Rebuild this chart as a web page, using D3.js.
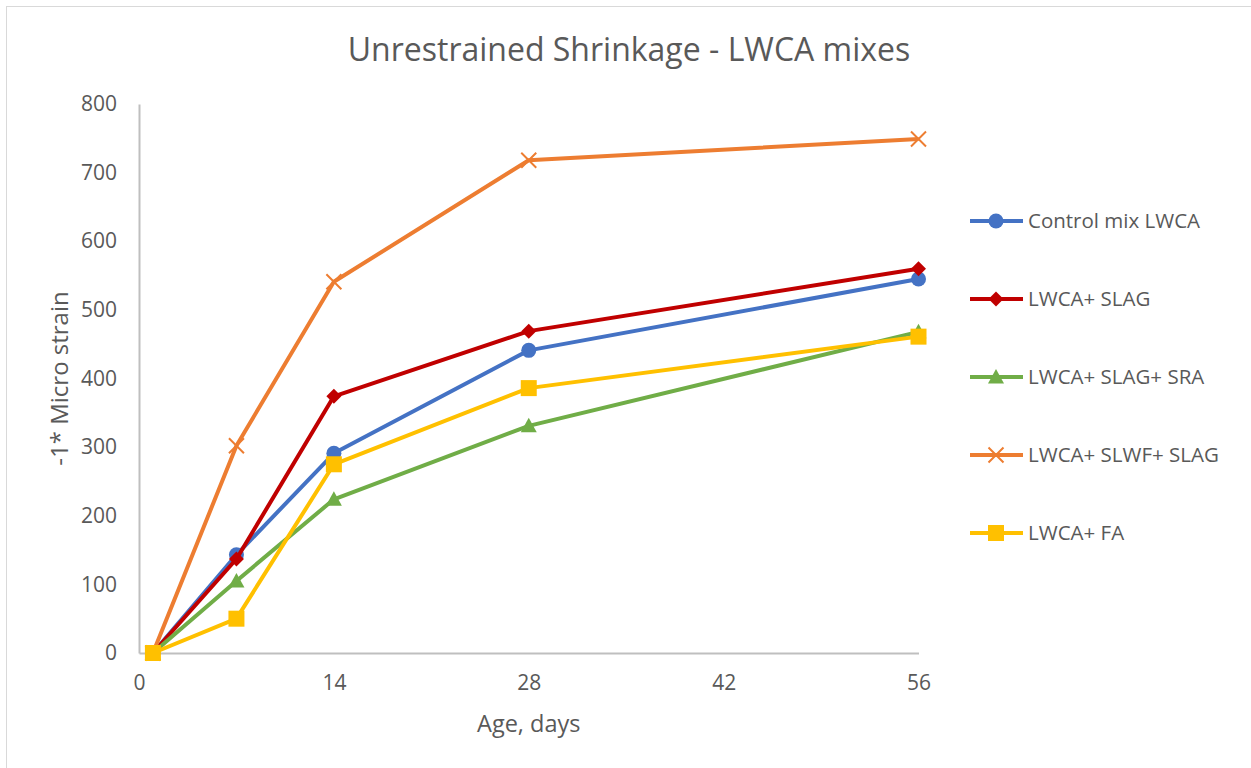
<!DOCTYPE html>
<html>
<head>
<meta charset="utf-8">
<script src="https://cdn.jsdelivr.net/npm/d3@7"></script>
<style>
  body { margin: 0; background: #fff; }
  svg text { font-family: "Open Sans", "Liberation Sans", sans-serif; fill: #595959; }
</style>
</head>
<body>
<script>
// data
const days = [1, 7, 14, 28, 56];
const seriesNames = ['Control mix LWCA', 'LWCA+ SLAG', 'LWCA+ SLAG+ SRA', 'LWCA+ SLWF+ SLAG', 'LWCA+ FA'];
const controlMix = [0, 143, 291, 441, 545];
const slag = [0, 137, 374, 469, 560];
const slagSra = [0, 105, 224, 331, 468];
const slwfSlag = [0, 302, 541, 718, 749];
const fa = [0, 50, 275, 386, 461];
const xTicks = [0, 14, 28, 42, 56];
const yTicks = [0, 100, 200, 300, 400, 500, 600, 700, 800];

const colors = ['#4472c4', '#c00000', '#70ad47', '#ed7d31', '#ffc000'];
const shapes = ['circle', 'diamond', 'triangle', 'cross', 'square'];
const allValues = [controlMix, slag, slagSra, slwfSlag, fa];

const W = 1251, H = 768;
const margin = { l: 139, r: 333, t: 104, b: 115 };

const svg = d3.select('body').append('svg')
  .attr('width', W)
  .attr('height', H);

// chart frame
svg.append('rect')
  .attr('x', 6.5).attr('y', 6.5)
  .attr('width', W + 20).attr('height', H + 20)
  .attr('fill', 'none')
  .attr('stroke', '#d9d9d9');

const x = d3.scaleLinear().domain([0, 56]).range([margin.l, W - margin.r + 0.5]);
const y = d3.scaleLinear().domain([0, 800]).range([H - margin.b, margin.t]);

svg.append('text')
  .attr('x', 629).attr('y', 61)
  .attr('text-anchor', 'middle')
  .style('font-size', '32px')
  .text('Unrestrained Shrinkage - LWCA mixes');

// axes
const xAxis = svg.append('g')
  .attr('transform', `translate(0,${y(0)})`)
  .call(d3.axisBottom(x).tickValues(xTicks).tickSize(0).tickPadding(22));
const yAxis = svg.append('g')
  .attr('transform', `translate(${x(0)},0)`)
  .call(d3.axisLeft(y).tickValues(yTicks).tickSize(0).tickPadding(22));
[xAxis, yAxis].forEach(g => {
  g.select('.domain').attr('stroke', '#bfbfbf').attr('stroke-width', 2);
  g.selectAll('text').style('font-size', '21px').attr('fill', '#595959')
    .style('font-family', '"Open Sans", sans-serif');
});

svg.append('text')
  .attr('x', x(28)).attr('y', 732)
  .attr('text-anchor', 'middle')
  .style('font-size', '23.5px')
  .text('Age, days');

svg.append('text')
  .attr('transform', `translate(68,${y(400)}) rotate(-90)`)
  .attr('text-anchor', 'middle')
  .style('font-size', '24px')
  .text('-1* Micro strain');

function drawMarker(g, shape, color) {
  if (shape === 'circle') {
    g.append('circle').attr('r', 7.5).attr('fill', color);
  } else if (shape === 'diamond') {
    g.append('path').attr('d', 'M0,-7.5L7.5,0L0,7.5L-7.5,0Z').attr('fill', color);
  } else if (shape === 'triangle') {
    g.append('path').attr('d', 'M0,-8L8,6.5L-8,6.5Z').attr('fill', color);
  } else if (shape === 'cross') {
    g.append('path').attr('d', 'M-7.5,-7.5L7.5,7.5M-7.5,7.5L7.5,-7.5')
      .attr('stroke', color).attr('stroke-width', 2).attr('fill', 'none');
  } else {
    g.append('rect').attr('x', -8).attr('y', -8).attr('width', 16).attr('height', 16).attr('fill', color);
  }
}

const line = d3.line().x(d => x(d[0])).y(d => y(d[1]));

// draw in order so later series sit on top like the original
allValues.forEach((vals, i) => {
  const pts = days.map((d, j) => [d, vals[j]]);
  svg.append('path')
    .datum(pts)
    .attr('d', line)
    .attr('fill', 'none')
    .attr('stroke', colors[i])
    .attr('stroke-width', 4)
    .attr('stroke-linejoin', 'round');
  pts.forEach(p => {
    const g = svg.append('g').attr('transform', `translate(${x(p[0])},${y(p[1])})`);
    drawMarker(g, shapes[i], colors[i]);
  });
});

// legend
const legend = svg.selectAll('.legend')
  .data(seriesNames)
  .enter().append('g')
  .attr('class', 'legend')
  .attr('transform', (d, i) => `translate(970,${221 + i * 78})`);

legend.append('line')
  .attr('x1', 0).attr('x2', 53)
  .attr('stroke', (d, i) => colors[i])
  .attr('stroke-width', 4);

legend.each(function(d, i) {
  const g = d3.select(this).append('g').attr('transform', 'translate(26,0)');
  drawMarker(g, shapes[i], colors[i]);
});

legend.append('text')
  .attr('x', 58).attr('y', 7)
  .style('font-size', '20.5px')
  .text(d => d);
</script>
</body>
</html>
